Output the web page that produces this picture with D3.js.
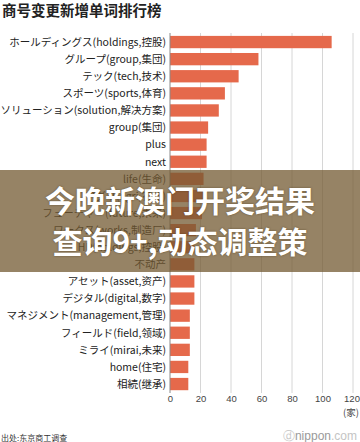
<!DOCTYPE html>
<html><head><meta charset="utf-8">
<script src="https://cdn.jsdelivr.net/npm/d3@7"></script>
<style>
html,body{margin:0;padding:0;background:#fff;}
svg{display:block;}
</style></head>
<body>
<svg id="chart" width="360" height="442"></svg>
<script>
const categories = [
  "ホールディングス(holdings,控股)",
  "グループ(group,集団)",
  "テック(tech,技术)",
  "スポーツ(sports,体育)",
  "ソリューション(solution,解决方案)",
  "group(集団)",
  "plus",
  "next",
  "life(生命)",
  "アグリ(agri,农业)",
  "フューチャー(future,未来)",
  "ワークス(works,制造厂)",
  "HD(holdings,控股)",
  "不动产",
  "アセット(asset,资产)",
  "デジタル(digital,数字)",
  "マネジメント(management,管理)",
  "フィールド(field,领域)",
  "ミライ(mirai,未来)",
  "home(住宅)",
  "相続(继承)"
];
const values = [106, 58, 45, 36, 32, 25, 24, 24, 22, 22, 21, 17, 16, 16, 16, 16, 13, 13, 13, 12, 12];
const tickValues = [0, 20, 40, 60, 80, 100, 120];
const unitLabel = "(家)";
const title = "商号变更新增单词排行榜";
const source = "出处:东京商工调查";
const overlayLines = ["今晚新澳门开奖结果", "查询9+,动态调整策"];

const svg = d3.select("#chart");
const x = d3.scaleLinear().domain([0, 120]).range([170, 353]);
const y = d3.scaleBand().domain(categories).range([33.5, 392.6]).paddingInner(0.28).paddingOuter(0.14);

// title
svg.append("text").attr("x", 2).attr("y", 15.5)
  .attr("font-family", "'Noto Sans CJK SC'").attr("font-weight", "bold")
  .attr("font-size", 14.5).attr("fill", "#222").text(title);

// grid
svg.append("g").selectAll("line").data(tickValues.slice(1)).join("line")
  .attr("x1", d => x(d)).attr("x2", d => x(d))
  .attr("y1", 33).attr("y2", 393)
  .attr("stroke", "#d6d6d6").attr("stroke-width", 1);

// bars
svg.append("g").selectAll("rect").data(values).join("rect")
  .attr("x", x(0)).attr("y", (d, i) => y(categories[i]))
  .attr("width", d => x(d) - x(0)).attr("height", y.bandwidth())
  .attr("fill", "#e5694b");

// axis line
svg.append("line").attr("x1", x(0)).attr("x2", x(0)).attr("y1", 33).attr("y2", 393)
  .attr("stroke", "#8a8a8a").attr("stroke-width", 1);

// category labels
svg.append("g").selectAll("text").data(categories).join("text")
  .attr("x", 166).attr("y", d => y(d) + y.bandwidth() / 2)
  .attr("dy", "0.36em").attr("text-anchor", "end")
  .attr("font-family", "'Noto Sans CJK JP'").attr("font-size", 10.5)
  .attr("fill", "#222").text(d => d);

// x axis ticks
const xAxis = d3.axisBottom(x).tickValues(tickValues).tickSize(0).tickPadding(0);
const gx = svg.append("g").attr("transform", "translate(0,392)").call(xAxis);
gx.select(".domain").remove();
gx.selectAll("text").attr("y", 3).attr("font-family", "'Liberation Sans'")
  .attr("font-size", 9.5).attr("fill", "#444");
gx.selectAll(".tick").filter(d => d === 120).select("text").attr("dx", -1.5);
svg.append("text").attr("x", 359).attr("y", 416).attr("text-anchor", "end")
  .attr("font-family", "'Noto Sans CJK JP'").attr("font-size", 9.5).attr("fill", "#444").text(unitLabel);

// source
svg.append("text").attr("x", 1).attr("y", 441)
  .attr("font-family", "'Noto Sans CJK SC'").attr("font-size", 8).attr("fill", "#333").text(source);
const wm = svg.append("text").attr("x", 357).attr("y", 440).attr("text-anchor", "end")
  .attr("font-family", "'Liberation Sans'").attr("font-size", 12).attr("fill", "#9a9a9a");
wm.append("tspan").attr("fill", "#c8c8c8").text("ⓓ");
wm.append("tspan").text("nippon");
wm.append("tspan").attr("fill", "#c4c4c4").text(".com");

// overlay banner
svg.append("rect").attr("x", 0).attr("y", 170).attr("width", 360).attr("height", 102)
  .attr("fill", "rgb(115,90,50)").attr("fill-opacity", 0.75);
svg.append("g").selectAll("text").data(overlayLines).join("text")
  .attr("x", 180).attr("y", (d, i) => 212 + i * 41).attr("text-anchor", "middle")
  .attr("font-family", "'Noto Sans CJK SC'").attr("font-weight", "bold")
  .attr("font-size", 30).attr("fill", "#fff")
  .style("text-shadow", "0 0 2px rgba(60,40,10,0.6)")
  .text(d => d);
</script>
</body></html>
